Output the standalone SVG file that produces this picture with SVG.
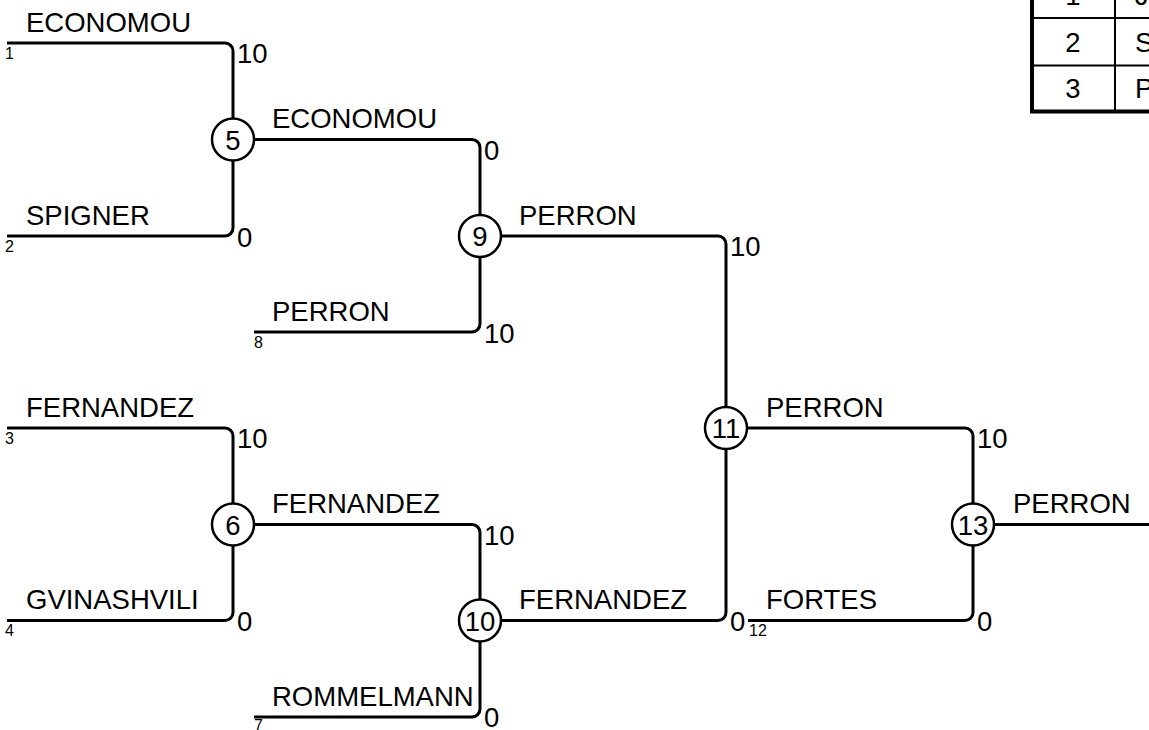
<svg xmlns="http://www.w3.org/2000/svg" width="1149" height="730" viewBox="0 0 1149 730">
<style>
.c{fill:none;stroke:#000;stroke-width:3;stroke-linejoin:round}
.n circle{fill:#fff;stroke:#000;stroke-width:2.5}
text{font-family:"Liberation Sans",Arial,sans-serif;fill:#000}
.lb{font-size:27.5px}
.sd{font-size:16px}
.ct{font-size:27.5px;text-anchor:middle}
.tb{fill:none;stroke:#000}
</style>
<rect width="1149" height="730" fill="#fff"/>
<g id="connectors">
<path class="c" d="M7,43 H225 A8,8 0 0 1 233,51 V118.5"/>
<path class="c" d="M7,236 H225 A8,8 0 0 0 233,228 V160.5"/>
<path class="c" d="M254,139.5 H472 A8,8 0 0 1 480,147.5 V215"/>
<path class="c" d="M254,332 H472 A8,8 0 0 0 480,324 V257"/>
<path class="c" d="M7,428 H225 A8,8 0 0 1 233,436 V503.5"/>
<path class="c" d="M7,620.5 H225 A8,8 0 0 0 233,612.5 V545.5"/>
<path class="c" d="M254,524.5 H472 A8,8 0 0 1 480,532.5 V599.5"/>
<path class="c" d="M254,717 H472 A8,8 0 0 0 480,709 V641.5"/>
<path class="c" d="M501,236 H718 A8,8 0 0 1 726,244 V407"/>
<path class="c" d="M501,620.5 H718 A8,8 0 0 0 726,612.5 V449"/>
<path class="c" d="M747,428 H965 A8,8 0 0 1 973,436 V503.5"/>
<path class="c" d="M748,620.5 H965 A8,8 0 0 0 973,612.5 V545.5"/>
<path class="c" d="M994,524.5 H1149"/>
</g>
<g id="labels">
<text class="lb" x="26" y="31.5">ECONOMOU</text>
<text class="lb" x="26" y="224.5">SPIGNER</text>
<text class="lb" x="272" y="128">ECONOMOU</text>
<text class="lb" x="272" y="320.5">PERRON</text>
<text class="lb" x="519" y="224.5">PERRON</text>
<text class="lb" x="26" y="416.5">FERNANDEZ</text>
<text class="lb" x="26" y="609">GVINASHVILI</text>
<text class="lb" x="272" y="513">FERNANDEZ</text>
<text class="lb" x="272" y="705.5">ROMMELMANN</text>
<text class="lb" x="519" y="609">FERNANDEZ</text>
<text class="lb" x="766" y="416.5">PERRON</text>
<text class="lb" x="766" y="609">FORTES</text>
<text class="lb" x="1013" y="513">PERRON</text>
</g>
<g id="scores">
<text class="lb" x="237" y="63">10</text>
<text class="lb" x="237" y="246.5">0</text>
<text class="lb" x="484" y="159.5">0</text>
<text class="lb" x="484" y="342.5">10</text>
<text class="lb" x="237" y="448">10</text>
<text class="lb" x="237" y="631">0</text>
<text class="lb" x="484" y="544.5">10</text>
<text class="lb" x="484" y="726.5">0</text>
<text class="lb" x="730" y="256">10</text>
<text class="lb" x="730" y="631">0</text>
<text class="lb" x="977" y="448">10</text>
<text class="lb" x="977" y="631">0</text>
</g>
<g id="seeds">
<text class="sd" x="5" y="58.5">1</text>
<text class="sd" x="5" y="251.5">2</text>
<text class="sd" x="5" y="443.5">3</text>
<text class="sd" x="5" y="636">4</text>
<text class="sd" x="254" y="347.5">8</text>
<text class="sd" x="254" y="731">7</text>
<text class="sd" x="749" y="636">12</text>
</g>
<g id="node5" class="n"><circle cx="233" cy="139.5" r="21"/><text class="ct" x="233" y="149.5">5</text></g>
<g id="node9" class="n"><circle cx="480" cy="236" r="21"/><text class="ct" x="480" y="246">9</text></g>
<g id="node6" class="n"><circle cx="233" cy="524.5" r="21"/><text class="ct" x="233" y="534.5">6</text></g>
<g id="node10" class="n"><circle cx="480" cy="620.5" r="21"/><text class="ct" x="480" y="630.5">10</text></g>
<g id="node11" class="n"><circle cx="726" cy="428" r="21"/><text class="ct" x="726" y="438">11</text></g>
<g id="node13" class="n"><circle cx="973" cy="524.5" r="21"/><text class="ct" x="973" y="534.5">13</text></g>
<g id="table">
<line class="tb" stroke-width="2" x1="1032" y1="18" x2="1149" y2="18"/>
<line class="tb" stroke-width="2" x1="1032" y1="65.5" x2="1149" y2="65.5"/>
<line class="tb" stroke-width="2" x1="1115" y1="-10" x2="1115" y2="111"/>
<path class="tb" stroke-width="4" d="M1032,-10 V111.5 H1160"/>
<text class="ct" x="1073" y="4.5">1</text>
<text class="ct" x="1073" y="52">2</text>
<text class="ct" x="1073" y="98">3</text>
<text class="lb" x="1135" y="4.5">J</text>
<text class="lb" x="1135" y="52">S</text>
<text class="lb" x="1135" y="98">P</text>
</g>
</svg>
